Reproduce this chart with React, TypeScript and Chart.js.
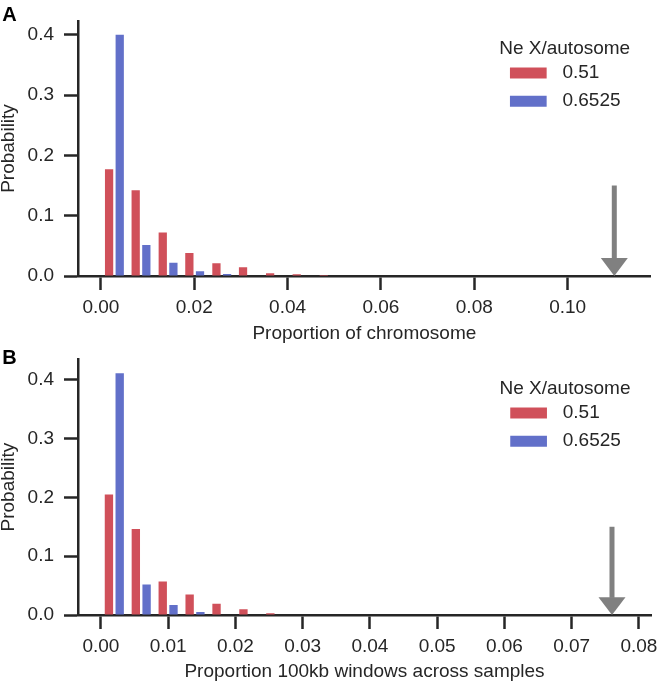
import React, { useEffect, useRef } from 'react';
import { Chart, registerables } from 'chart.js';

Chart.register(...registerables);

// ---------- data ----------
const seriesLabels = ['0.51', '0.6525'];
const legendTitle = 'Ne X/autosome';
const yTicks = [0, 0.1, 0.2, 0.3, 0.4];
const yTitle = 'Probability';

// Panel A
const binsA = [0.0029, 0.0086, 0.0144, 0.0201, 0.0259, 0.0316, 0.0374, 0.0431, 0.0489];
const redA = [0.177, 0.142, 0.072, 0.038, 0.021, 0.0145, 0.0045, 0.003, 0.0015];
const blueA = [0.4, 0.0515, 0.022, 0.008, 0.0033, 0, 0, 0, 0];
const xTicksA = [0, 0.02, 0.04, 0.06, 0.08, 0.1];
const xTitleA = 'Proportion of chromosome';
const markerA = 0.11;

// Panel B
const binsB = [0.002, 0.006, 0.01, 0.014, 0.018, 0.022, 0.026];
const redB = [0.205, 0.146, 0.057, 0.035, 0.019, 0.0097, 0.003];
const blueB = [0.411, 0.052, 0.017, 0.005, 0, 0, 0];
const xTicksB = [0, 0.01, 0.02, 0.03, 0.04, 0.05, 0.06, 0.07, 0.08];
const xTitleB = 'Proportion 100kb windows across samples';
const markerB = 0.076;

// arrow extent (in y data units)
const arrowTop = 0.15;
const arrowHeadStart = 0.03;

// ---------- styles ----------
const FONT = "'Liberation Sans', Arial, Helvetica, sans-serif";
const INK = '#262626';
const RED = '#d0505a';
const BLUE = '#6270c9';
const ARROW = '#808080';

type PanelProps = {
  letter: string;
  letterBaseline: number;
  bins: number[];
  red: number[];
  blue: number[];
  xTicks: number[];
  xTitle: string;
  xMin: number;
  xMax: number;
  yMax: number;
  marker: number;
  height: number;
  padTop: number;
  padRight: number;
  legendTop: number;
  titlePadBottom: number;
};

function Panel(p: PanelProps) {
  const ref = useRef<HTMLCanvasElement | null>(null);

  useEffect(() => {
    if (!ref.current) return;

    const overlay = {
      id: 'overlay',
      afterLayout(chart: any) {
        const lg = chart.legend;
        const ca = chart.chartArea;
        if (!lg) return;
        const w = lg.width;
        const h = lg.height;
        lg.left = ca.right - 151.5;
        lg.top = ca.top + p.legendTop;
        lg.right = lg.left + w;
        lg.bottom = lg.top + h;
      },
      afterDatasetsDraw(chart: any) {
        const ctx = chart.ctx;
        const xs = chart.scales.x;
        const ys = chart.scales.y;
        const px = xs.getPixelForValue(p.marker);
        const yT = ys.getPixelForValue(arrowTop);
        const yH = ys.getPixelForValue(arrowHeadStart);
        const y0 = ys.getPixelForValue(0);
        ctx.save();
        ctx.fillStyle = ARROW;
        ctx.fillRect(px - 2.5, yT, 5, yH - yT + 0.5);
        ctx.beginPath();
        ctx.moveTo(px - 13.5, yH);
        ctx.lineTo(px + 13.5, yH);
        ctx.lineTo(px, y0);
        ctx.closePath();
        ctx.fill();
        ctx.restore();
      },
      afterDraw(chart: any) {
        const ctx = chart.ctx;
        ctx.save();
        ctx.fillStyle = '#000';
        ctx.font = `bold 20px ${FONT}`;
        ctx.textBaseline = 'alphabetic';
        ctx.textAlign = 'left';
        ctx.fillText(p.letter, 2.2, p.letterBaseline);
        ctx.restore();
      },
    };

    const chart = new Chart(ref.current, {
      type: 'bar',
      data: {
        datasets: [
          {
            label: seriesLabels[0],
            data: p.bins.map((x, i) => ({ x, y: p.red[i] })),
            backgroundColor: RED,
            borderWidth: 0,
          },
          {
            label: seriesLabels[1],
            data: p.bins.map((x, i) => ({ x, y: p.blue[i] })),
            backgroundColor: BLUE,
            borderWidth: 0,
          },
        ],
      },
      options: {
        responsive: false,
        maintainAspectRatio: false,
        animation: false,
        events: [],
        categoryPercentage: 0.8,
        barPercentage: 0.776,
        layout: { padding: { top: p.padTop, right: p.padRight, left: 0, bottom: 0 } },
        scales: {
          x: {
            type: 'linear',
            min: p.xMin,
            max: p.xMax,
            offset: false,
            afterFit: (s: any) => {
              s.height = 69;
              s.paddingLeft = 0;
              s.paddingRight = 0;
            },
            afterBuildTicks: (s: any) => {
              s.ticks = p.xTicks.map((v) => ({ value: v }));
            },
            grid: {
              offset: false,
              drawOnChartArea: false,
              drawTicks: true,
              tickLength: 14,
              tickWidth: 2.5,
              tickColor: INK,
            },
            border: { display: true, color: INK, width: 2.5 },
            ticks: {
              color: INK,
              padding: 6.3,
              maxRotation: 0,
              autoSkip: false,
              font: { family: FONT, size: 19 },
              callback: (v: any) => Number(v).toFixed(2),
            },
            title: {
              display: true,
              text: p.xTitle,
              color: INK,
              font: { family: FONT, size: 19, lineHeight: 1.2 },
              padding: { top: 0, bottom: p.titlePadBottom },
            },
          },
          y: {
            type: 'linear',
            min: 0,
            max: p.yMax,
            afterFit: (s: any) => {
              s.width = 78;
              s.paddingTop = 0;
              s.paddingBottom = 0;
            },
            afterBuildTicks: (s: any) => {
              s.ticks = yTicks.map((v) => ({ value: v }));
            },
            grid: {
              drawOnChartArea: false,
              drawTicks: true,
              tickLength: 14,
              tickWidth: 2.5,
              tickColor: INK,
            },
            border: { display: true, color: INK, width: 2.5 },
            ticks: {
              color: INK,
              padding: 10,
              font: { family: FONT, size: 19 },
              callback: (v: any) => Number(v).toFixed(1),
            },
            title: {
              display: true,
              text: yTitle,
              color: INK,
              font: { family: FONT, size: 19, lineHeight: 0.9 },
              padding: 0,
            },
          },
        },
        plugins: {
          tooltip: { enabled: false },
          title: { display: false },
          legend: {
            display: true,
            position: 'chartArea' as any,
            align: 'start',
            title: {
              display: true,
              text: legendTitle,
              position: 'start',
              color: INK,
              font: { family: FONT, size: 19, lineHeight: 0.93 },
              padding: 0,
            },
            labels: {
              color: INK,
              font: { family: FONT, size: 19 },
              boxWidth: 49.3,
              boxHeight: 23.6,
              padding: 4.45,
              generateLabels: (chart: any) =>
                Chart.defaults.plugins.legend.labels
                  .generateLabels(chart)
                  .map((it: any) => ({ ...it, lineWidth: 12.6, strokeStyle: '#ffffff' })),
            },
          },
        },
      } as any,
      plugins: [overlay],
    });

    return () => chart.destroy();
  }, []);

  return <canvas ref={ref} width={658} height={p.height} style={{ display: 'block', width: 658, height: p.height }} />;
}

export default function App() {
  return (
    <div style={{ position: 'absolute', left: 0, top: 0, width: 658, height: 684, background: '#fff' }}>
      <Panel
        letter="A"
        letterBaseline={20.7}
        bins={binsA}
        red={redA}
        blue={blueA}
        xTicks={xTicksA}
        xTitle={xTitleA}
        xMin={-0.0049}
        xMax={0.1178}
        yMax={0.4227}
        marker={markerA}
        height={345}
        padTop={21}
        padRight={7.3}
        legendTop={18.2}
        titlePadBottom={0}
      />
      <Panel
        letter="B"
        letterBaseline={19.3}
        bins={binsB}
        red={redB}
        blue={blueB}
        xTicks={xTicksB}
        xTitle={xTitleB}
        xMin={-0.0034}
        xMax={0.0818}
        yMax={0.4347}
        marker={markerB}
        height={339}
        padTop={14.3}
        padRight={7}
        legendTop={19.9}
        titlePadBottom={0.6}
      />
    </div>
  );
}
